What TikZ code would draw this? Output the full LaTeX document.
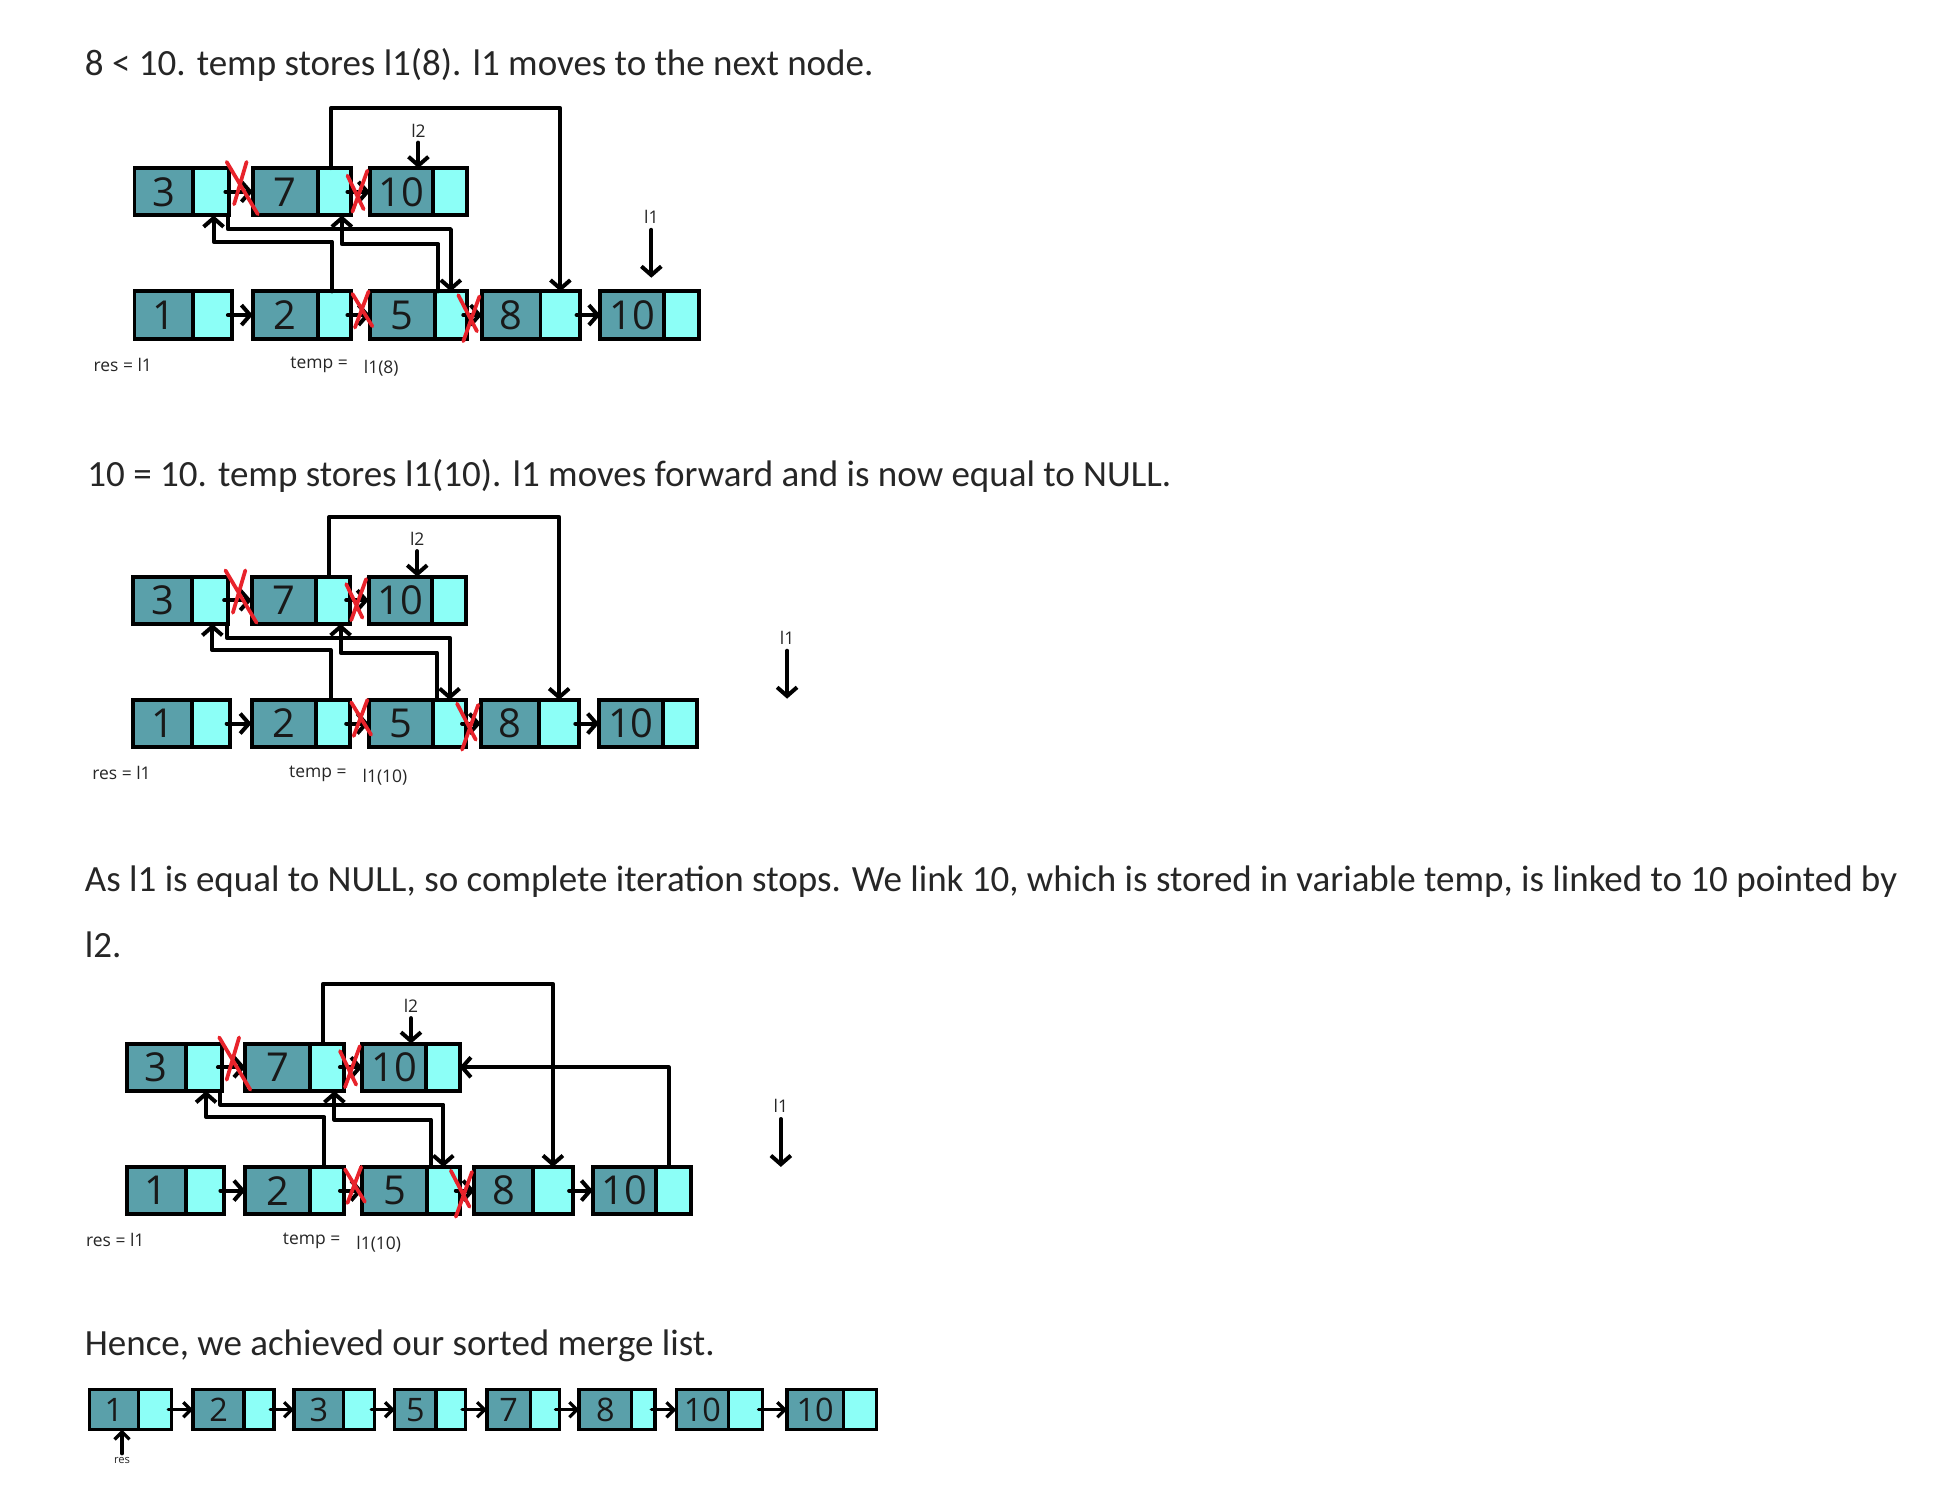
\documentclass[tikz,border=0pt]{standalone}
\usepackage{fontspec}
\setmainfont{Carlito}
\newfontfamily\labelfont{Open Sans}
\usetikzlibrary{arrows.meta,positioning,calc}

\definecolor{celldata}{HTML}{5AA0AA}
\definecolor{cellptr}{HTML}{8CFFF7}
\definecolor{crossred}{HTML}{E8232B}
\definecolor{bodytext}{HTML}{262626}

% one list node: name, x, y (top left), data width, pointer width, value
\newcommand{\llnode}[6]{%
  \node[databox, minimum width=#4pt, anchor=north west] (#1) at (#2,#3) {#6};
  \node[ptrbox, minimum width=#5pt, right=0pt of #1] (#1-p) {};
}

% one state of the merge; #1 = what temp holds
\newcommand{\mergestep}[1]{%
  % l2 list
  \llnode{n3}{108}{135}{47}{29}{3}
  \llnode{n7}{203}{135}{52}{27}{7}
  \llnode{n10t}{297}{135}{51}{27}{10}
  % l1 list
  \llnode{n1}{108}{234}{47}{31}{1}
  \llnode{n2}{203}{234}{52}{27}{2}
  \llnode{n5}{297}{234}{52}{26}{5}
  \llnode{n8}{387}{234}{47}{32}{8}
  \llnode{n10b}{482}{234}{51}{28}{10}
  % next links
  \draw[link] ([xshift=-3pt]n3-p.east) -- (n7.west);
  \draw[link] ([xshift=-3pt]n7-p.east) -- (n10t.west);
  \draw[link] ([xshift=-3pt]n1-p.east) -- (n2.west);
  \draw[link] ([xshift=-3pt]n2-p.east) -- (n5.west);
  \draw[link] ([xshift=-3pt]n5-p.east) -- (n8.west);
  \draw[link] ([xshift=-3pt]n8-p.east) -- (n10b.west);
  % relinked pointers
  \draw[link] ([xshift=-3pt]n7-p.north) -- ++(0,-48) -| (n8-p.north);
  \draw[link] ([xshift=-2pt]n2-p.north) -- ++(0,-40) -| ([xshift=2pt]n3-p.south);
  \draw[link] ([xshift=-1pt]n3-p.south east) -- ++(0,11) -| (n5-p.north);
  \draw[link] ([xshift=3pt]n5-p.north west) -- ++(0,-38) -| ([xshift=6pt]n7-p.south);
  % broken links
  \draw[cross] (182,130) -- (207,172) (198,130) -- (188,164);
  \draw[cross] (279,141) -- (292,168) (295,137) -- (283,170);
  \draw[cross] (283,236) -- (299,262) (296,234) -- (285,263);
  \draw[cross] (368,237) -- (383,266) (385,238) -- (372,274);
  % l2 pointer
  \node[tag] (l2) at (336,105) {l2};
  \draw[link] ([yshift=-4pt]l2.south) -- (l2 |- n10t.north);
  % variables
  \node[tag, anchor=west] (res) at (75,293) {res = l1};
  \node[tag, anchor=west] (temp) at (233,293) {temp =};
  \node[tag, anchor=west] (tval) at (292,296) {#1};
}

\begin{document}
\begin{tikzpicture}[
  x=1pt, y=-1pt,
  databox/.style={draw, line width=3.2pt, fill=celldata, minimum height=38pt,
    inner sep=0pt, outer sep=0pt, text=black!90, font=\labelfont\fontsize{32}{32}\selectfont},
  ptrbox/.style={draw, line width=3.2pt, fill=cellptr, minimum height=38pt,
    inner sep=0pt, outer sep=0pt},
  link/.style={line width=3.2pt, line cap=round, line join=round,
    -{Straight Barb[length=7pt, width=16pt]}},
  flink/.style={line width=2.6pt, line cap=round, line join=round,
    -{Straight Barb[length=6pt, width=12pt]}},
  cross/.style={crossred, line width=3pt, line cap=round},
  caption/.style={anchor=west, inner sep=0pt, text=bodytext,
    font=\fontsize{29.7}{29.7}\selectfont},
  tag/.style={inner sep=0pt, text=black!85, font=\labelfont\fontsize{14}{14}\selectfont}
]
\useasboundingbox[fill=white] (0,0) rectangle (1565,1214.1);

% Step 1
\node[caption] (t1) at (68,52) {8 < 10. temp stores l1(8). l1 moves to the next node.};
\begin{scope}
  \mergestep{l1(8)}
  \node[tag] (l1) at (523,174) {l1};
  \coordinate (l1end) at (524,223);
  \draw[link] ([yshift=-5pt]l1.south) -- (l1.south |- l1end);
\end{scope}

% Step 2
\node[caption] (t2) at (70,382) {10 = 10. temp stores l1(10). l1 moves forward and is now equal to NULL.};
\begin{scope}[shift={(-1,328)}]
  \mergestep{l1(10)}
  \node[tag] (l1) at (633,184) {l1};
  \coordinate (l1end) at (633,233);
  \draw[link] ([yshift=-5pt]l1.south) -- (l1.south |- l1end);
\end{scope}

% Step 3
\node[caption] (t3) at (68,708) {As l1 is equal to NULL, so complete iteration stops. We link 10, which is stored in variable temp, is linked to 10 pointed by};
\node[caption] (t3b) at (68,759) {l2.};
\begin{scope}[shift={(-6,703)}]
  \mergestep{l1(10)}
  \node[tag] (l1) at (633,185) {l1};
  \coordinate (l1end) at (633,234);
  \draw[link] ([yshift=-5pt]l1.south) -- (l1.south |- l1end);
  \draw[link] ([xshift=-4pt]n10b-p.north) |- (n10t-p.east);
\end{scope}

% Result
\node[caption] (t4) at (68,1081) {Hence, we achieved our sorted merge list.};
\begin{scope}[
  databox/.append style={line width=2.6pt, minimum height=32pt, font=\labelfont\fontsize{26}{26}\selectfont},
  ptrbox/.append style={line width=2.6pt, minimum height=32pt}
]
  \llnode{f1}{72}{1116}{39}{27}{1}
  \llnode{f2}{155}{1116}{41}{24}{2}
  \llnode{f3}{236}{1116}{40}{25}{3}
  \llnode{f4}{317}{1116}{33}{24}{5}
  \llnode{f5}{391}{1116}{35}{23}{7}
  \llnode{f6}{465}{1116}{42}{19}{8}
  \llnode{f7}{543}{1116}{42}{27}{10}
  \llnode{f8}{632}{1116}{45}{27}{10}
  \foreach \a/\b in {f1/f2, f2/f3, f3/f4, f4/f5, f5/f6, f6/f7, f7/f8}
    \draw[flink] ([xshift=-3pt]\a-p.east) -- (\b.west);
  \node[tag, font=\labelfont\fontsize{9}{9}\selectfont] (fres) at (98,1173) {res};
  \draw[flink] ([yshift=3pt]fres.north) -- (fres.north |- f1.south);
\end{scope}

\end{tikzpicture}
\end{document}
